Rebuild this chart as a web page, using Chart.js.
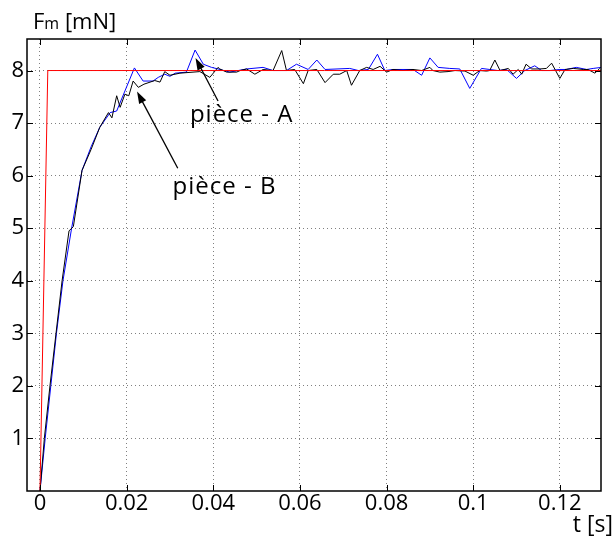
<!DOCTYPE html>
<html>
<head>
<meta charset="utf-8">
<script src="https://cdn.jsdelivr.net/npm/chart.js@4/dist/chart.umd.min.js"></script>
<style>
  html, body { margin: 0; padding: 0; background: #fff; }
</style>
</head>
<body>
<canvas id="myChart" width="614" height="537"></canvas>
<script>
// piece A (blue)
const timeA = [0, 0.0012, 0.0025, 0.0038, 0.0053, 0.0073, 0.0097, 0.0118, 0.0138, 0.0162, 0.0177,
  0.0218, 0.0238, 0.0261, 0.0273, 0.0288, 0.0300, 0.0312, 0.0338, 0.0358, 0.0377, 0.0396, 0.0411,
  0.0438, 0.0477, 0.0515, 0.0538, 0.0569, 0.0592, 0.0619, 0.0639, 0.0658, 0.0715, 0.0735, 0.0758,
  0.0779, 0.0796, 0.0815, 0.0861, 0.0881, 0.0900, 0.0919, 0.0946, 0.0969, 0.0992, 0.1019, 0.1038,
  0.1057, 0.1077, 0.1100, 0.1119, 0.1142, 0.1158, 0.1177, 0.1200, 0.1215, 0.1238, 0.1262, 0.1277, 0.1296];
const forceA = [0, 1.0, 2.0, 3.0, 4.0, 5.0, 6.1, 6.55, 6.92, 7.2, 7.23,
  8.05, 7.8, 7.8, 7.87, 7.93, 7.89, 7.95, 7.97, 8.39, 8.12, 8.06, 8.03,
  7.97, 8.03, 8.06, 8.0, 8.0, 8.12, 8.02, 8.2, 8.02, 8.04, 8.0, 8.02,
  8.31, 8.0, 8.02, 8.02, 7.91, 8.24, 8.06, 8.04, 8.03, 7.66, 8.04, 8.02,
  8.0, 8.02, 7.85, 8.0, 8.09, 8.0, 8.0, 8.02, 8.02, 8.06, 8.02, 8.04, 8.06];

// piece B (black)
const timeB = [0, 0.0010, 0.0023, 0.0037, 0.0051, 0.0067, 0.0077, 0.0097, 0.0118, 0.0138, 0.0158,
  0.0166, 0.0177, 0.0185, 0.0196, 0.0205, 0.0215, 0.0227, 0.0240, 0.0265, 0.0277, 0.0288, 0.0300,
  0.0323, 0.0369, 0.0392, 0.0411, 0.0415, 0.0431, 0.0454, 0.0462, 0.0477, 0.0496, 0.0515, 0.0538,
  0.0558, 0.0569, 0.0588, 0.0608, 0.0619, 0.0639, 0.0658, 0.0677, 0.0692, 0.0708, 0.0719, 0.0738,
  0.0754, 0.0769, 0.0785, 0.0800, 0.0815, 0.0838, 0.0861, 0.0881, 0.0900, 0.0907, 0.0923, 0.0942,
  0.0958, 0.0981, 0.1000, 0.1015, 0.1031, 0.1038, 0.1050, 0.1062, 0.1081, 0.1092, 0.1104, 0.1112,
  0.1122, 0.1135, 0.1154, 0.1169, 0.1181, 0.1200, 0.1212, 0.1231, 0.1254, 0.1265, 0.1281, 0.1292];
const forceB = [0, 1.0, 2.0, 3.0, 4.0, 4.95, 5.03, 6.1, 6.5, 6.92, 7.2,
  7.1, 7.52, 7.3, 7.55, 7.52, 7.8, 7.68, 7.74, 7.81, 7.78, 7.98, 7.91,
  7.95, 7.98, 7.87, 8.06, 8.03, 7.97, 7.97, 8.0, 8.03, 7.93, 8.02, 8.0,
  8.38, 8.0, 8.02, 7.75, 8.0, 8.02, 7.77, 7.93, 7.93, 8.0, 7.72, 8.0,
  8.06, 8.02, 8.08, 7.97, 8.02, 8.0, 8.02, 8.0, 8.06, 8.0, 7.97, 7.98,
  8.0, 7.99, 7.91, 8.0, 7.99, 8.0, 8.2, 8.0, 8.04, 7.93, 8.02, 7.93,
  8.12, 8.03, 8.03, 8.04, 8.14, 7.85, 8.02, 8.04, 8.02, 8.02, 7.95, 8.04];

// command (red)
const timeRef = [0, 0.0018, 0.1295];
const forceRef = [0, 8, 8];

const xTicks = [0, 0.02, 0.04, 0.06, 0.08, 0.1, 0.12];
const xLabels = ['0', '0.02', '0.04', '0.06', '0.08', '0.1', '0.12'];
const yTicks = [1, 2, 3, 4, 5, 6, 7, 8];

const notes = [
  { text: 'pièce - A', x: 0.0346, y: 7.02, tail: [0.0411, 7.42], tip: [0.0359, 8.24] },
  { text: 'pièce - B', x: 0.0306, y: 5.65, tail: [0.0318, 6.14], tip: [0.0224, 7.6] }
];

const pts = (xs, ys) => xs.map((x, i) => ({ x: x, y: ys[i] }));

Chart.defaults.font.family = "'Open Sans', sans-serif";
Chart.defaults.color = '#000';

const frame = {
  id: 'frame',
  afterDraw(chart) {
    const c = chart.ctx, a = chart.chartArea;
    const sx = chart.scales.x, sy = chart.scales.y;
    c.save();
    c.strokeStyle = '#000';
    c.lineWidth = 1.5;
    c.strokeRect(a.left, a.top, a.right - a.left, a.bottom - a.top);
    c.lineWidth = 1;
    c.beginPath();
    xTicks.forEach(v => {
      const p = Math.round(sx.getPixelForValue(v)) + 0.5;
      c.moveTo(p, a.bottom); c.lineTo(p, a.bottom - 6);
      c.moveTo(p, a.top); c.lineTo(p, a.top + 6);
    });
    yTicks.forEach(v => {
      const p = Math.round(sy.getPixelForValue(v)) + 0.5;
      c.moveTo(a.left, p); c.lineTo(a.left + 6, p);
      c.moveTo(a.right, p); c.lineTo(a.right - 6, p);
    });
    c.stroke();

    // axis titles
    c.fillStyle = '#000';
    c.textBaseline = 'alphabetic';
    c.textAlign = 'left';
    c.font = "22px 'Open Sans'";
    c.fillText('F', 33, 29);
    let w = c.measureText('F').width;
    c.font = "16px 'Open Sans'";
    c.fillText('m', 33 + w, 29);
    w += c.measureText('m').width;
    c.font = "22px 'Open Sans'";
    c.fillText(' [mN]', 33 + w, 29);
    c.textAlign = 'right';
    c.font = "23px 'Open Sans'";
    c.fillText('t [s]', 613, 532);

    // notes with arrows
    c.textAlign = 'left';
    notes.forEach(n => {
      c.font = "24px 'Open Sans'";
      c.letterSpacing = '1px';
      c.fillText(n.text, sx.getPixelForValue(n.x), sy.getPixelForValue(n.y));
      c.letterSpacing = '0px';
      const x0 = sx.getPixelForValue(n.tail[0]), y0 = sy.getPixelForValue(n.tail[1]);
      const x1 = sx.getPixelForValue(n.tip[0]), y1 = sy.getPixelForValue(n.tip[1]);
      const ang = Math.atan2(y1 - y0, x1 - x0);
      c.lineWidth = 1.3;
      c.beginPath(); c.moveTo(x0, y0); c.lineTo(x1 - 8 * Math.cos(ang), y1 - 8 * Math.sin(ang)); c.stroke();
      c.beginPath();
      c.moveTo(x1, y1);
      c.lineTo(x1 - 12 * Math.cos(ang) + 4 * Math.sin(ang), y1 - 12 * Math.sin(ang) - 4 * Math.cos(ang));
      c.lineTo(x1 - 12 * Math.cos(ang) - 4 * Math.sin(ang), y1 - 12 * Math.sin(ang) + 4 * Math.cos(ang));
      c.closePath(); c.fill();
    });
    c.restore();
  }
};

const ctx = document.getElementById('myChart');
new Chart(ctx, {
  type: 'line',
  data: {
    datasets: [
      { label: 'consigne', data: pts(timeRef, forceRef), borderColor: '#ff0000', borderWidth: 1, order: 0 },
      { label: 'pièce - B', data: pts(timeB, forceB), borderColor: '#000000', borderWidth: 1, order: 1 },
      { label: 'pièce - A', data: pts(timeA, forceA), borderColor: '#0000ff', borderWidth: 1, order: 2 }
    ]
  },
  options: {
    responsive: false,
    animation: false,
    elements: { point: { radius: 0 }, line: { tension: 0 } },
    layout: { padding: { top: 39, right: 13, left: 0, bottom: 0 } },
    plugins: { legend: { display: false }, tooltip: { enabled: false } },
    scales: {
      x: {
        type: 'linear',
        min: -0.003,
        max: 0.1295,
        afterFit: s => { s.height = 46; },
        afterBuildTicks: s => { s.ticks = xTicks.map(v => ({ value: v })); },
        ticks: {
          font: { size: 22 },
          padding: 0,
          maxRotation: 0,
          autoSkip: false,
          callback: (v, i) => xLabels[i]
        },
        grid: { color: '#808080', lineWidth: 1, drawTicks: false },
        border: { display: false, dash: [1, 3] }
      },
      y: {
        type: 'linear',
        min: 0,
        max: 8.6,
        afterFit: s => { s.width = 27; },
        afterBuildTicks: s => { s.ticks = yTicks.map(v => ({ value: v })); },
        ticks: {
          font: { size: 22 },
          padding: 3,
          autoSkip: false,
          callback: v => String(v)
        },
        grid: { color: '#808080', lineWidth: 1, drawTicks: false },
        border: { display: false, dash: [1, 3] }
      }
    }
  },
  plugins: [frame]
});
</script>
</body>
</html>
